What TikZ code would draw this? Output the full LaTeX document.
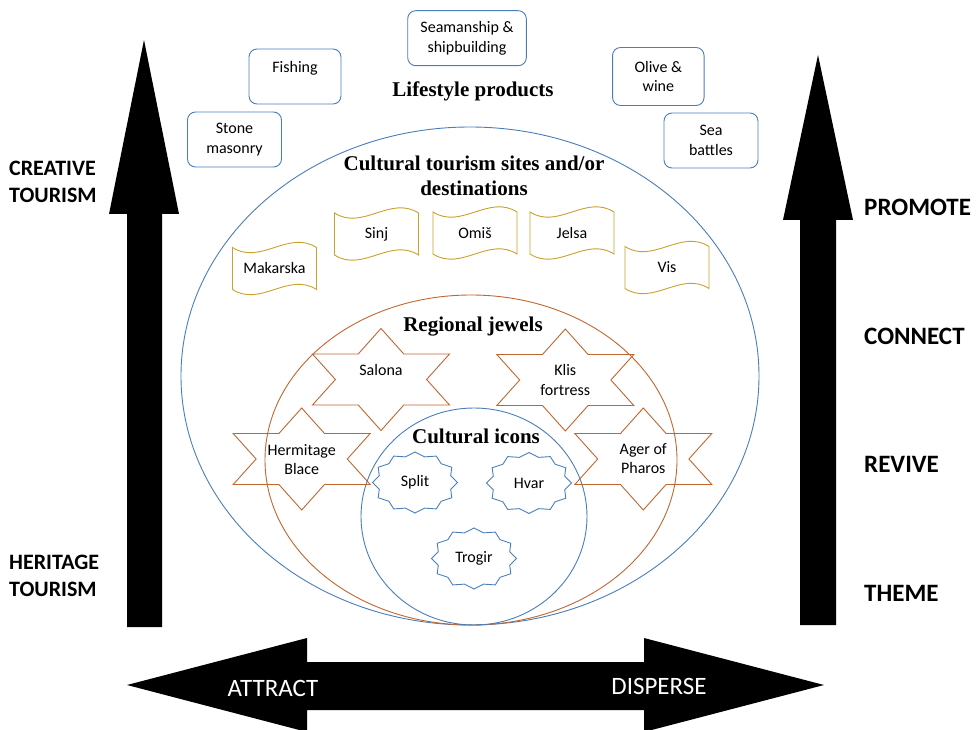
\documentclass[tikz,border=0pt]{standalone}
\usepackage{fontspec}
\setmainfont{Carlito}
\newfontfamily\serifbold{Liberation Serif}
\usetikzlibrary{calc}
\definecolor{lineblue}{HTML}{4A7EBB}
\definecolor{lineorange}{HTML}{C0662E}
\definecolor{linegold}{HTML}{C9A12B}
\tikzset{
  small/.style={font=\fontsize{16}{19.5}\selectfont, align=center, inner sep=0pt},
  lifebox/.style={small, draw=lineblue, line width=0.9pt, rounded corners=8pt},
  titletext/.style={font=\fontsize{21}{25.5}\selectfont\serifbold\bfseries, align=center, inner sep=0pt},
  sidelabel/.style={font=\fontsize{22}{27.5}\selectfont\bfseries, align=left, anchor=west, inner sep=0pt},
  steplabel/.style={font=\fontsize{25}{30}\selectfont\bfseries, anchor=west, inner sep=0pt},
  flowlabel/.style={font=\fontsize{25}{30}\selectfont, text=white, inner sep=0pt},
  ring/.style={line width=0.9pt},
  scrollline/.style={draw=linegold, line width=0.9pt},
  jewelline/.style={draw=lineorange, line width=0.9pt},
  sealline/.style={draw=lineblue, line width=0.9pt},
  bigarrow/.style={fill=black, draw=none},
}
% wave (scroll) outline around a named point
\newcommand\wavebox[1]{%
  \draw[scrollline, shift={(#1)}] (-42,-21) .. controls (-14,-3) and (14,-39) .. (42,-21)
     -- (42,21) .. controls (14,3) and (-14,39) .. (-42,21) -- cycle;}
% six-pointed star around a named point
\newcommand\jewelstar[1]{%
  \draw[jewelline, shift={(#1)}] (0,-51) -- (-22.8,-25.5) -- (-68.5,-25.5) -- (-45.6,0)
     -- (-68.5,25.5) -- (-22.8,25.5) -- (0,51) -- (22.8,25.5) -- (68.5,25.5)
     -- (45.6,0) -- (68.5,-25.5) -- (22.8,-25.5) -- cycle;}
% twelve-pointed seal around a named point
\newcommand\sealshape[1]{%
  \draw[sealline, shift={(#1)}] plot[samples at={0,...,23}]
     ({(1-0.13*mod(\x,2))*42.5*cos(90+15*\x)}, {(1-0.13*mod(\x,2))*30.5*sin(90+15*\x)}) -- cycle;}
\begin{document}
\begin{tikzpicture}[x=1pt,y=-1pt]
\useasboundingbox (0,0) rectangle (978,730);

% ---- big arrows
\fill[bigarrow] (127,627) -- (127,214) -- (109,214) -- (144,40) -- (179,214) -- (162,214) -- (162,627) -- cycle;
\fill[bigarrow] (800,625) -- (800,220) -- (783,220) -- (818,55) -- (853,220) -- (836,220) -- (836,625) -- cycle;
\fill[bigarrow] (127,685) -- (307,638) -- (307,662) -- (644,662) -- (644,638) -- (824,685)
   -- (644,732) -- (644,710) -- (307,710) -- (307,732) -- cycle;

\node[flowlabel] (attract) at (273,688) {ATTRACT};
\node[flowlabel] (disperse) at (659,686) {DISPERSE};

\node[sidelabel] (creative) at (9,182) {CREATIVE\\TOURISM};
\node[sidelabel] (heritage) at (9,576) {HERITAGE\\TOURISM};

\node[steplabel] (promote) at (864,207) {PROMOTE};
\node[steplabel] (connect) at (864,336) {CONNECT};
\node[steplabel] (revive) at (864,464) {REVIVE};
\node[steplabel] (theme) at (864,593) {THEME};

% ---- rings
\coordinate (outerC) at (470,376);
\coordinate (middleC) at (471,460);
\coordinate (innerC) at (474,516.5);
\draw[ring, lineblue] (outerC) ellipse [x radius=289, y radius=249];
\draw[ring, lineorange] (middleC) ellipse [x radius=206, y radius=165];
\draw[ring, lineblue] (innerC) ellipse [x radius=113, y radius=108.5];

% ---- lifestyle products
\node[titletext] (lifestyle) at (473,91) {Lifestyle products};
\node[lifebox, minimum width=118.6pt, minimum height=55pt] (seaman) at (467,38.2) {Seamanship \&\\shipbuilding};
\node[lifebox, minimum width=92pt, minimum height=55pt] (fishing) at (295,76.5) {Fishing\\\mbox{}};
\node[lifebox, minimum width=94pt, minimum height=55pt] (stone) at (234.5,139.5) {Stone\\masonry};
\node[lifebox, minimum width=91.5pt, minimum height=58pt] (olive) at (658.3,76.5) {Olive \&\\wine};
\node[lifebox, minimum width=94pt, minimum height=55pt] (seabattles) at (711,140.5) {Sea\\battles};

% ---- cultural tourism sites
\node[titletext] (sites) at (474,176) {Cultural tourism sites and/or\\destinations};
\node[small] (makarska) at (274.5,268.5) {Makarska};
\node[small] (sinj) at (376.5,234) {Sinj};
\node[small] (omis) at (475,233) {Omiš};
\node[small] (jelsa) at (572,233) {Jelsa};
\node[small] (vis) at (667,267.5) {Vis};
\wavebox{makarska}
\wavebox{sinj}
\wavebox{omis}
\wavebox{jelsa}
\wavebox{vis}

% ---- regional jewels
\node[titletext] (jewels) at (473,326.5) {Regional jewels};
\coordinate (salonaC) at (381,379.5);
\coordinate (klisC) at (565.3,380);
\coordinate (hermitageC) at (301.7,459);
\coordinate (agerC) at (643.3,459);
\jewelstar{salonaC}
\jewelstar{klisC}
\jewelstar{hermitageC}
\jewelstar{agerC}
\node[small] (salona) at (381,370) {Salona};
\node[small] (klis) at (565.3,380) {Klis\\fortress};
\node[small] (hermitage) at (301.7,459.5) {Hermitage\\Blace};
\node[small] (ager) at (643.3,458.5) {Ager of\\Pharos};

% ---- cultural icons
\node[titletext] (icons) at (476,436.5) {Cultural icons};
\node[small] (split) at (415,482.5) {Split};
\node[small] (hvar) at (529,483) {Hvar};
\node[small] (trogir) at (474,558.5) {Trogir};
\sealshape{split}
\sealshape{hvar}
\sealshape{trogir}
\end{tikzpicture}
\end{document}
